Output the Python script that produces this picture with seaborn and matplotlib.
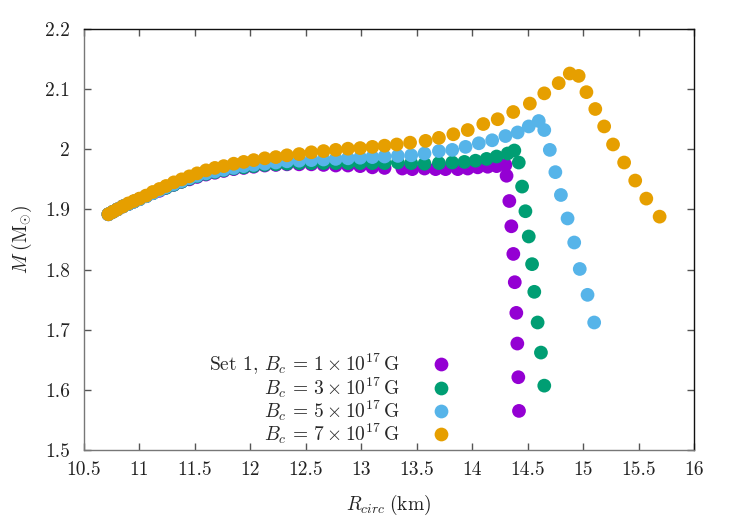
import numpy as np
import pandas as pd
import matplotlib
matplotlib.use("Agg")
import matplotlib.pyplot as plt
import seaborn as sns


# -----------------------------
# Data
# -----------------------------
R_EARLY = [10.72, 10.76, 10.80, 10.85, 10.90, 10.95, 11.00, 11.06, 11.12, 11.18,
           11.24, 11.31, 11.38, 11.45, 11.52, 11.60, 11.68, 11.76, 11.85, 11.94,
           12.03, 12.13, 12.23, 12.33, 12.44, 12.55, 12.66, 12.77, 12.88, 12.99,
           13.10, 13.21]

# Bc = 1e17 G
R_B1 = R_EARLY + [13.37, 13.46, 13.57, 13.67, 13.76, 13.87, 13.96, 14.05, 14.14, 14.22,
                  14.30, 14.31, 14.335, 14.353, 14.371, 14.384, 14.398, 14.407, 14.416, 14.422]
M_B1 = [1.892, 1.896, 1.900, 1.905, 1.909, 1.913, 1.917, 1.922, 1.927, 1.931,
        1.936, 1.941, 1.946, 1.950, 1.954, 1.958, 1.961, 1.964, 1.967, 1.969,
        1.971, 1.973, 1.974, 1.975, 1.975, 1.975, 1.974, 1.973, 1.973, 1.972,
        1.970, 1.969,
        1.968, 1.967, 1.968, 1.967, 1.967, 1.967, 1.968, 1.970, 1.971, 1.972,
        1.974, 1.956, 1.914, 1.872, 1.826, 1.779, 1.728, 1.677, 1.621, 1.565]

# Bc = 3e17 G
R_B3 = R_EARLY + [13.33, 13.45, 13.57, 13.70, 13.82, 13.93, 14.03, 14.13, 14.22, 14.32,
                  14.38, 14.42, 14.45, 14.48, 14.51, 14.54, 14.56, 14.59, 14.62, 14.65]
M_B3 = [1.892, 1.896, 1.900, 1.905, 1.909, 1.913, 1.917, 1.922, 1.927, 1.932,
        1.936, 1.941, 1.946, 1.951, 1.955, 1.959, 1.962, 1.965, 1.968, 1.970,
        1.972, 1.974, 1.975, 1.976, 1.977, 1.977, 1.977, 1.977, 1.977, 1.977,
        1.977, 1.977,
        1.978, 1.977, 1.976, 1.977, 1.978, 1.979, 1.981, 1.984, 1.988, 1.993,
        1.998, 1.978, 1.938, 1.897, 1.855, 1.809, 1.763, 1.712, 1.662, 1.607]

# Bc = 5e17 G
R_B5 = R_EARLY + [13.33, 13.45, 13.57, 13.70, 13.82, 13.94, 14.06, 14.18, 14.30, 14.41,
                  14.51, 14.60, 14.65, 14.70, 14.75, 14.80, 14.86, 14.92, 14.97, 15.04,
                  15.10]
M_B5 = [1.892, 1.896, 1.900, 1.905, 1.909, 1.913, 1.917, 1.922, 1.927, 1.932,
        1.937, 1.942, 1.947, 1.952, 1.956, 1.960, 1.963, 1.966, 1.969, 1.972,
        1.974, 1.976, 1.978, 1.980, 1.981, 1.982, 1.983, 1.984, 1.985, 1.986,
        1.987, 1.988,
        1.989, 1.990, 1.993, 1.997, 1.999, 2.004, 2.010, 2.015, 2.022, 2.028,
        2.038, 2.047, 2.032, 1.999, 1.962, 1.924, 1.885, 1.845, 1.801, 1.758,
        1.712]

# Bc = 7e17 G
R_B7 = R_EARLY + [13.32, 13.44, 13.58, 13.70, 13.83, 13.96, 14.10, 14.23, 14.37, 14.52,
                  14.65, 14.78, 14.88, 14.96, 15.03, 15.11, 15.19, 15.27, 15.37, 15.47,
                  15.57, 15.69]
M_B7 = [1.892, 1.896, 1.900, 1.905, 1.910, 1.914, 1.918, 1.923, 1.929, 1.934,
        1.939, 1.945, 1.950, 1.955, 1.960, 1.965, 1.969, 1.972, 1.976, 1.979,
        1.982, 1.985, 1.987, 1.990, 1.992, 1.995, 1.997, 1.999, 2.001, 2.002,
        2.004, 2.006,
        2.008, 2.011, 2.014, 2.019, 2.025, 2.032, 2.042, 2.050, 2.062, 2.076,
        2.093, 2.110, 2.126, 2.122, 2.095, 2.067, 2.038, 2.008, 1.978, 1.948,
        1.918, 1.888]

LABELS = [r"Set 1, $B_c \,=\, 1 \times 10^{17}\,\mathrm{G}$",
          r"$B_c \,=\, 3 \times 10^{17}\,\mathrm{G}$",
          r"$B_c \,=\, 5 \times 10^{17}\,\mathrm{G}$",
          r"$B_c \,=\, 7 \times 10^{17}\,\mathrm{G}$"]
COLORS = ["#9400d3", "#009e73", "#56b4e9", "#e69f00"]

X_TICKS = [10.5, 11, 11.5, 12, 12.5, 13, 13.5, 14, 14.5, 15, 15.5, 16]
X_TICKLABELS = ["10.5", "11", "11.5", "12", "12.5", "13", "13.5", "14", "14.5", "15", "15.5", "16"]
Y_TICKS = [1.5, 1.6, 1.7, 1.8, 1.9, 2.0, 2.1, 2.2]
Y_TICKLABELS = ["1.5", "1.6", "1.7", "1.8", "1.9", "2", "2.1", "2.2"]


def build_frame():
    parts = []
    for r, m, lab in zip([R_B1, R_B3, R_B5, R_B7], [M_B1, M_B3, M_B5, M_B7], LABELS):
        parts.append(pd.DataFrame({"R": r, "M": m, "set": lab}))
    return pd.concat(parts, ignore_index=True)


def main():
    sns.set_theme(style="ticks")
    plt.rcParams["font.family"] = ["cmr10", "DejaVu Serif"]
    plt.rcParams["mathtext.fontset"] = "cm"
    plt.rcParams["axes.unicode_minus"] = False

    df = build_frame()

    fig = plt.figure(figsize=(7.47, 5.26), dpi=100)
    ax = fig.add_axes([84 / 747, 76 / 526, 610 / 747, 421 / 526])

    sns.scatterplot(data=df, x="R", y="M", hue="set", hue_order=LABELS,
                    palette=COLORS, s=98, linewidth=0, alpha=1.0, ax=ax, legend=True)

    ax.set_xlim(10.5, 16)
    ax.set_ylim(1.5, 2.2)
    ax.set_xticks(X_TICKS)
    ax.set_xticklabels(X_TICKLABELS)
    ax.set_yticks(Y_TICKS)
    ax.set_yticklabels(Y_TICKLABELS)
    ax.tick_params(axis="both", direction="in", length=5, width=1.0, color="#555555",
                   labelsize=14, labelcolor="#222222", top=True, right=True)
    ax.tick_params(axis="x", pad=8)
    ax.tick_params(axis="y", pad=10)

    for side in ["top", "right"]:
        ax.spines[side].set_color("#111111")
    for side in ["left", "bottom"]:
        ax.spines[side].set_color("#777777")
    for sp in ax.spines.values():
        sp.set_linewidth(1.0)

    ax.set_xlabel(r"$R_{circ}\;(\mathrm{km})$", fontsize=14, color="#222222", labelpad=10)
    ax.set_ylabel(r"$M\;(\mathrm{M}_{\odot})$", fontsize=14, color="#222222", labelpad=8)

    handles, labels = ax.get_legend_handles_labels()
    ax.legend(handles, labels, loc="lower right", bbox_to_anchor=(0.601, 0.010),
              frameon=False, markerfirst=False, fontsize=14, handlelength=1.0,
              handletextpad=1.65, labelspacing=-0.08, borderpad=0, borderaxespad=0)

    fig.savefig("out.png", dpi=100)
    plt.close(fig)


if __name__ == "__main__":
    main()
